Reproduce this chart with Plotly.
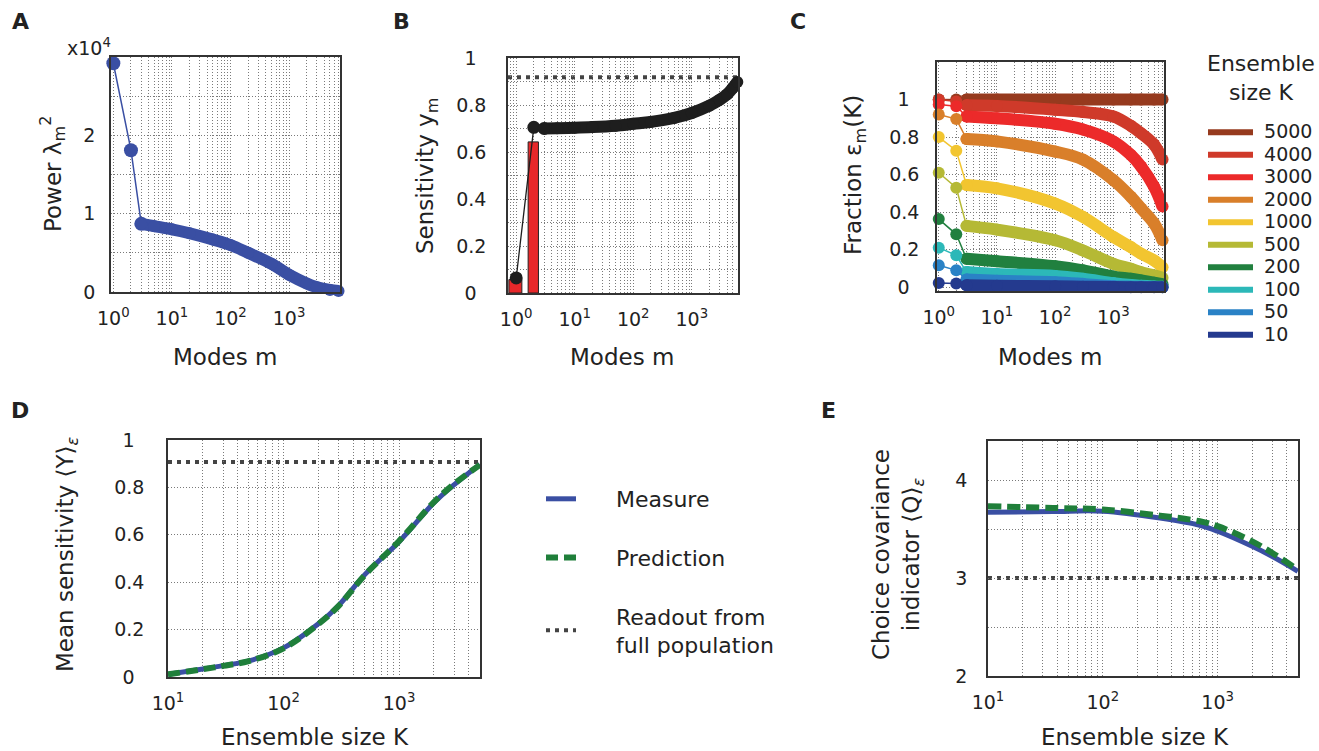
import plotly.graph_objects as go

W, H = 1319, 751
FONT = "DejaVu Sans"
TXT = "#222222"
GRID = "#7a7a7a"

# ------------------------------------------------------------------ data
# Panel A: power spectrum (x10^4)
modes_A = [1, 2, 3, 5, 10, 20, 50, 100, 200, 500, 1000, 2000, 3000, 5000, 7000]
power_A = [2.92, 1.81, 0.87, 0.84, 0.80, 0.75, 0.67, 0.60, 0.50, 0.36, 0.22, 0.11, 0.06, 0.025, 0.012]

# Panel B: sensitivity per mode
modes_B = [1, 2, 3, 5, 10, 20, 50, 100, 200, 500, 1000, 2000, 3000, 4000, 5000, 6000]
sens_B = [0.064, 0.705, 0.700, 0.701, 0.703, 0.706, 0.712, 0.720, 0.728, 0.745, 0.766,
          0.797, 0.822, 0.845, 0.872, 0.898]
bar_modes_B = [1, 2]
bar_vals_B = [0.057, 0.643]
readout_B = 0.918

# Panel C: fraction eps_m(K)
modes_C = [1, 2, 3, 10, 100, 300, 1000, 2000, 3000, 5000, 7000]
ensemble_K = [5000, 4000, 3000, 2000, 1000, 500, 200, 100, 50, 10]
frac_5000 = [1.0, 1.0, 1.0, 1.0, 1.0, 1.0, 1.0, 1.0, 1.0, 1.0, 1.0]
frac_4000 = [1.0, 0.99, 0.970, 0.966, 0.946, 0.934, 0.91, 0.86, 0.82, 0.76, 0.68]
frac_3000 = [0.973, 0.964, 0.91, 0.90, 0.871, 0.84, 0.777, 0.705, 0.643, 0.536, 0.43]
frac_2000 = [0.92, 0.896, 0.79, 0.777, 0.723, 0.68, 0.571, 0.482, 0.42, 0.34, 0.25]
frac_1000 = [0.80, 0.727, 0.545, 0.527, 0.446, 0.375, 0.268, 0.214, 0.179, 0.143, 0.107]
frac_500 = [0.61, 0.53, 0.327, 0.307, 0.25, 0.196, 0.125, 0.098, 0.08, 0.063, 0.05]
frac_200 = [0.363, 0.282, 0.152, 0.139, 0.112, 0.090, 0.057, 0.045, 0.036, 0.024, 0.016]
frac_100 = [0.211, 0.17, 0.081, 0.070, 0.060, 0.045, 0.022, 0.012, 0.008, 0.004, 0.002]
frac_50 = [0.117, 0.09, 0.041, 0.035, 0.027, 0.018, 0.006, 0.003, 0.002, 0.001, 0.0]
frac_10 = [0.023, 0.02, 0.011, 0.008, 0.005, 0.003, 0.001, 0.0, 0.0, 0.0, 0.0]
colors_C = ["#963a1e", "#cf3a2a", "#ec2a2a", "#d97f2a", "#f2c530",
            "#b5b935", "#21803f", "#2cb8b8", "#2a82c6", "#243a8e"]

# Panel D: mean sensitivity vs ensemble size
K_D = [10, 20, 30, 50, 100, 200, 300, 500, 1000, 2000, 3000, 5000]
measure_D = [0.012, 0.034, 0.048, 0.068, 0.123, 0.225, 0.302, 0.43, 0.571, 0.735, 0.812, 0.897]
predict_D = [0.011, 0.033, 0.047, 0.067, 0.121, 0.223, 0.300, 0.428, 0.574, 0.738, 0.815, 0.895]
readout_D = 0.907

# Panel E: choice covariance indicator
K_E = [10, 37, 100, 315, 700, 1000, 2000, 3000, 5000]
measure_E = [3.672, 3.68, 3.683, 3.614, 3.54, 3.478, 3.324, 3.22, 3.07]
predict_E = [3.734, 3.717, 3.70, 3.638, 3.58, 3.53, 3.375, 3.256, 3.085]
readout_E = 3.0

# tick labels
PAD = "\u00a0\u2009"   # pads short labels so that they look centred
mode_tickvals = [1, 10, 100, 1000]
mode_ticktext = ["10<sup>0</sup>", "10<sup>1</sup>", "10<sup>2</sup>", "10<sup>3</sup>"]
K_tickvals = [10, 100, 1000]
K_ticktext = ["10<sup>1</sup>", "10<sup>2</sup>", "10<sup>3</sup>"]
yA_ticks = [0, 1, 2]
yA_text = ["0", "1", "2"]
yB_ticks = [0, 0.2, 0.4, 0.6, 0.8, 1]
yB_text = ["0" + PAD, "0.2", "0.4", "0.6", "0.8", "1" + PAD]
yC_ticks = [0, 0.2, 0.4, 0.6, 0.8, 1]
yC_text = ["0" + PAD, "0.2", "0.4", "0.6", "0.8", "1" + PAD]
yD_ticks = [0, 0.2, 0.4, 0.6, 0.8, 1]
yD_text = ["0" + PAD, "0.2", "0.4", "0.6", "0.8", "1" + PAD]
yE_ticks = [2, 3, 4]
yE_text = ["2", "3", "4"]

BLUE = "#3a4fa3"
GREEN = "#1f7f3a"
DOTC = "#444444"
DOTDASH = "4px,5px"


def dx(a, b):
    return [a / W, b / W]


def dy(t, b):
    return [1 - b / H, 1 - t / H]


def pxx(p):
    return p / W


def pxy(p):
    return 1 - p / H


fig = go.Figure()

# ------------------------------------------------------------------ A
fig.add_trace(go.Scatter(x=modes_A[:3], y=power_A[:3], mode="lines+markers",
                         line=dict(color=BLUE, width=1.5), marker=dict(color=BLUE, size=14),
                         cliponaxis=False, showlegend=False, xaxis="x", yaxis="y"))
fig.add_trace(go.Scatter(x=modes_A[2:], y=power_A[2:], mode="lines+markers",
                         line=dict(color=BLUE, width=12, shape="spline"),
                         marker=dict(color=BLUE, size=12),
                         cliponaxis=False, showlegend=False, xaxis="x", yaxis="y"))

# ------------------------------------------------------------------ B
fig.add_trace(go.Bar(x=bar_modes_B, y=bar_vals_B, width=[0.5, 0.8],
                     marker=dict(color="#e8282a", line=dict(color="#222", width=1)),
                     showlegend=False, xaxis="x2", yaxis="y2"))
fig.add_trace(go.Scatter(x=modes_B[:3], y=sens_B[:3], mode="lines+markers",
                         line=dict(color="#1e1e1e", width=1.3), marker=dict(color="#1e1e1e", size=13),
                         cliponaxis=False, showlegend=False, xaxis="x2", yaxis="y2"))
fig.add_trace(go.Scatter(x=modes_B[2:], y=sens_B[2:], mode="lines+markers",
                         line=dict(color="#1e1e1e", width=12, shape="spline"),
                         marker=dict(color="#1e1e1e", size=12),
                         cliponaxis=False, showlegend=False, xaxis="x2", yaxis="y2"))

# ------------------------------------------------------------------ C
fracs = [frac_5000, frac_4000, frac_3000, frac_2000, frac_1000,
         frac_500, frac_200, frac_100, frac_50, frac_10]
for K, vals, col in zip(ensemble_K, fracs, colors_C):
    fig.add_trace(go.Scatter(x=modes_C[:3], y=vals[:3], mode="lines+markers",
                             line=dict(color=col, width=1.5), marker=dict(color=col, size=12),
                             cliponaxis=False, showlegend=False, xaxis="x3", yaxis="y3"))
    fig.add_trace(go.Scatter(x=modes_C[2:], y=vals[2:], mode="lines+markers",
                             line=dict(color=col, width=12, shape="spline"),
                             marker=dict(color=col, size=12),
                             cliponaxis=False, showlegend=False, xaxis="x3", yaxis="y3"))
for K, col in zip(ensemble_K, colors_C):
    fig.add_trace(go.Scatter(x=[None], y=[None], mode="lines", line=dict(color=col, width=6),
                             name='<span style="font-size:19px">\u00a0%d</span>' % K,
                             legend="legend2", showlegend=True, xaxis="x3", yaxis="y3"))

# ------------------------------------------------------------------ D
NB = "\u00a0" * 5
fig.add_trace(go.Scatter(x=K_D, y=measure_D, mode="lines", line=dict(color=BLUE, width=5, shape="spline"),
                         name=NB + "Measure", legend="legend3", legendgroup="g1",
                         showlegend=True, xaxis="x4", yaxis="y4"))
fig.add_trace(go.Scatter(x=K_D, y=predict_D, mode="lines",
                         line=dict(color=GREEN, width=6, dash="12px,6px", shape="spline"),
                         name=NB + "Prediction", legend="legend3", legendgroup="g2",
                         showlegend=True, xaxis="x4", yaxis="y4"))
fig.add_trace(go.Scatter(x=[None], y=[None], mode="lines",
                         line=dict(color=DOTC, width=4, dash=DOTDASH),
                         name=NB + "Readout from<br>" + NB + "full population",
                         legend="legend3", legendgroup="g3",
                         showlegend=True, xaxis="x4", yaxis="y4"))

# ------------------------------------------------------------------ E
fig.add_trace(go.Scatter(x=K_E, y=measure_E, mode="lines", line=dict(color=BLUE, width=5, shape="spline"),
                         showlegend=False, xaxis="x5", yaxis="y5"))
fig.add_trace(go.Scatter(x=K_E, y=predict_E, mode="lines",
                         line=dict(color=GREEN, width=6, dash="13px,6px", shape="spline"),
                         showlegend=False, xaxis="x5", yaxis="y5"))

# readout levels spanning the whole width of their panels
shapes = []
for ax, lvl in (("2", readout_B), ("4", readout_D), ("5", readout_E)):
    shapes.append(dict(type="line", xref="x%s domain" % ax, yref="y%s" % ax,
                       x0=0, x1=1, y0=lvl, y1=lvl, layer="below",
                       line=dict(color=DOTC, width=4, dash=DOTDASH)))

# ------------------------------------------------------------------ axes
gridstyle = dict(showgrid=True, gridcolor=GRID, gridwidth=1, griddash="1px,2px")
tickfont = dict(family=FONT, size=19, color=TXT)


def xlog(domain, rng, anchor, tv, tt):
    return dict(type="log", domain=domain, range=rng, anchor=anchor, automargin=False,
                tickmode="array", tickvals=tv, ticktext=tt, ticks="",
                showline=True, linecolor="#333", linewidth=1.5, mirror=True, zeroline=False,
                tickfont=tickfont, ticklabelstandoff=8,
                minor=dict(dtick="D1", showgrid=True, gridcolor=GRID, gridwidth=1, griddash="1px,2px"),
                **gridstyle)


def ylin(domain, rng, anchor, tv, tt, standoff, minor_dtick=None):
    d = dict(domain=domain, range=rng, anchor=anchor, automargin=False,
             tickmode="array", tickvals=tv, ticktext=tt,
             ticks="", showline=True, linecolor="#333", linewidth=1.5, mirror=True, zeroline=False,
             tickfont=tickfont, ticklabelstandoff=standoff, **gridstyle)
    if minor_dtick:
        d["minor"] = dict(dtick=minor_dtick, showgrid=True, gridcolor=GRID, gridwidth=1, griddash="1px,2px")
    return d


fig.update_layout(
    xaxis=xlog(dx(111, 340), [-0.04, 3.87], "y", mode_tickvals, mode_ticktext),
    yaxis=ylin(dy(57, 292), [0, 3], "x", yA_ticks, yA_text, 10, 0.5),
    xaxis2=xlog(dx(508, 738), [-0.14, 3.79], "y2", mode_tickvals, mode_ticktext),
    yaxis2=ylin(dy(58, 293), [0, 1], "x2", yB_ticks, yB_text, 16, 0.1),
    xaxis3=xlog(dx(937, 1164), [-0.03, 3.87], "y3", mode_tickvals, mode_ticktext),
    yaxis3=ylin(dy(62, 291), [-0.02, 1.2], "x3", yC_ticks, yC_text, 12),
    xaxis4=xlog(dx(168, 480), [1, 3.7], "y4", K_tickvals, K_ticktext),
    yaxis4=ylin(dy(440, 677), [0, 1], "x4", yD_ticks, yD_text, 18),
    xaxis5=xlog(dx(988, 1298), [1, 3.7], "y5", K_tickvals, K_ticktext),
    yaxis5=ylin(dy(441, 676), [2, 4.4], "x5", yE_ticks, yE_text, 15, 0.5),
)

fig.update_layout(
    width=W, height=H, margin=dict(l=0, r=0, t=0, b=0, pad=0, autoexpand=False),
    paper_bgcolor="white", plot_bgcolor="white",
    font=dict(family=FONT, size=19, color=TXT),
    showlegend=True, shapes=shapes,
    legend2=dict(x=pxx(1203), y=pxy(116), xanchor="left", yanchor="top",
                 font=dict(family=FONT, size=15, color=TXT),
                 itemwidth=45, bgcolor="rgba(0,0,0,0)", traceorder="normal"),
    legend3=dict(x=pxx(541), y=pxy(478), xanchor="left", yanchor="top",
                 font=dict(family=FONT, size=22, color=TXT),
                 tracegroupgap=27, traceorder="grouped", bgcolor="rgba(0,0,0,0)"),
)

# ------------------------------------------------------------------ text annotations
ann = []


def add_text(text, x, y, size=22, angle=0, bold=False):
    ann.append(dict(text=("<b>%s</b>" % text) if bold else text, x=pxx(x), y=pxy(y),
                    xref="paper", yref="paper", showarrow=False, textangle=angle,
                    xanchor="center", yanchor="middle",
                    font=dict(family=FONT, size=size, color=TXT)))


add_text("A", 20, 21, 22, bold=True)
add_text("B", 401, 21, 22, bold=True)
add_text("C", 798, 21, 22, bold=True)
add_text("D", 20, 410, 22, bold=True)
add_text("E", 828, 410, 22, bold=True)

add_text("x10<sup>4</sup>", 89, 47, 19)
add_text("Power λ<sub>m</sub><sup>2</sup>", 52, 174, 23, angle=-90)
add_text("Sensitivity y<sub>m</sub>", 427, 176, 23, angle=-90)
add_text("Fraction ε<sub>m</sub>(K)", 855, 175, 23, angle=-90)
add_text("Modes m", 225, 357, 23)
add_text("Modes m", 622, 357, 23)
add_text("Modes m", 1050, 357, 23)
add_text("Ensemble<br>size K", 1261, 78, 22)

add_text("Mean sensitivity ⟨Y⟩<sub><i>ε</i></sub>", 67, 555, 23, angle=-90)
add_text("Choice covariance<br>indicator ⟨Q⟩<sub><i>ε</i></sub>", 898, 555, 23, angle=-90)
add_text("Ensemble size K", 315, 737, 23)
add_text("Ensemble size K", 1135, 737, 23)

fig.update_layout(annotations=ann)

fig.write_html("out.html", config={"displayModeBar": False},
               post_script="document.body.style.margin='0px';")
